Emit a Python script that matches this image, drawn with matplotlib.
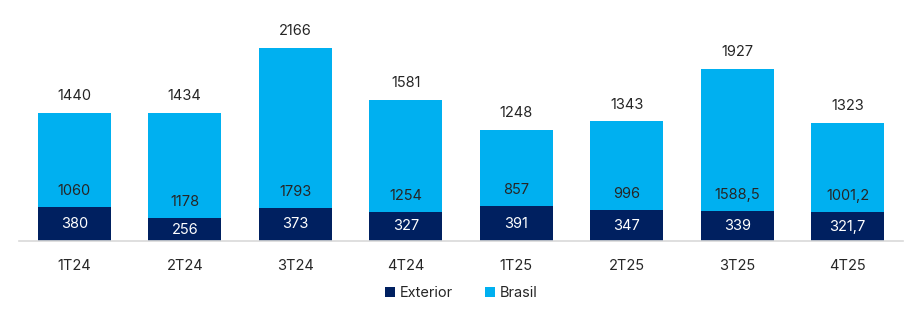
import matplotlib.pyplot as plt

plt.rcParams['font.family'] = ['Inter', 'DejaVu Sans']

quarters = ["1T24", "2T24", "3T24", "4T24", "1T25", "2T25", "3T25", "4T25"]
exterior = [380, 256, 373, 327, 391, 347, 339, 321.7]
brasil = [1060, 1178, 1793, 1254, 857, 996, 1588.5, 1001.2]
totals = [1440, 1434, 2166, 1581, 1248, 1343, 1927, 1323]

ext_labels = ["380", "256", "373", "327", "391", "347", "339", "321,7"]
bra_labels = ["1060", "1178", "1793", "1254", "857", "996", "1588,5", "1001,2"]
tot_labels = [str(t) for t in totals]

navy = "#002060"
sky = "#00B0F0"
text_col = "#262626"

fig = plt.figure(figsize=(9.22, 3.22), dpi=100)
ax = fig.add_axes([19 / 922, 81 / 322, 884 / 922, 214 / 322])

x = range(len(quarters))
ax.bar(x, exterior, width=0.66, color=navy, label="Exterior")
ax.bar(x, brasil, width=0.66, bottom=exterior, color=sky, label="Brasil")

for i in x:
    # dark segment: centred white label
    ax.text(i, exterior[i] / 2, ext_labels[i], ha="center", va="center",
            color="white", fontsize=10.5)
    # light segment: label just above the dark segment
    ax.annotate(bra_labels[i], (i, exterior[i]), xytext=(0, 11.5),
                textcoords="offset points", ha="center", va="center",
                color=text_col, fontsize=10.5)
    # total on top
    ax.annotate(tot_labels[i], (i, exterior[i] + brasil[i]), xytext=(0, 12),
                textcoords="offset points", ha="center", va="center",
                color=text_col, fontsize=10.5)

ax.set_xlim(-0.5, len(quarters) - 0.5)
ax.set_ylim(0, 2400)
ax.set_xticks(list(x))
ax.set_xticklabels(quarters, fontsize=10.5, color=text_col)
ax.tick_params(axis="x", length=0, pad=13)
ax.set_yticks([])

for side in ["top", "right", "left"]:
    ax.spines[side].set_visible(False)
ax.spines["bottom"].set_color("#D9D9D9")
ax.spines["bottom"].set_linewidth(1.2)

fig.legend(loc="center", bbox_to_anchor=(0.5, 1 - 293 / 322), ncol=2,
           frameon=False, fontsize=10.5, handlelength=0.7, handleheight=0.7,
           handletextpad=0.3, columnspacing=2.2, labelcolor=text_col)

fig.savefig("out.png", dpi=100)
